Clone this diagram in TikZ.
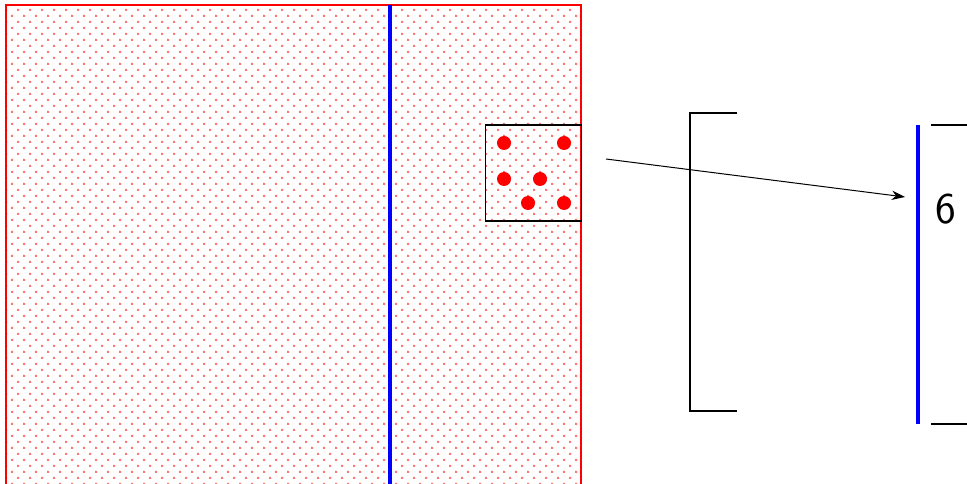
\documentclass[tikz,border=0pt]{standalone}
\usepackage{tikz}
\usetikzlibrary{patterns,arrows.meta}
\pgfdeclarepatternformonly{redgrain}{\pgfqpoint{-1pt}{-1pt}}{\pgfqpoint{10pt}{10pt}}{\pgfqpoint{9pt}{9pt}}
{\pgfpathrectangle{\pgfqpoint{-.75pt}{-.75pt}}{\pgfqpoint{1.5pt}{1.5pt}}
 \pgfpathrectangle{\pgfqpoint{3.75pt}{3.75pt}}{\pgfqpoint{1.5pt}{1.5pt}}
 \pgfusepath{fill}}
\tikzset{field/.style={draw=red,line width=1.5pt,pattern=redgrain,pattern color=red!55},
 cut/.style={draw=blue,line width=3pt},
 grain/.style={circle,fill=red,inner sep=0pt,minimum size=10.5pt},
 bracket/.style={draw=black,line width=1pt},
 every picture/.style={line join=miter,line cap=butt}}

\begin{document}
\begin{tikzpicture}[x=0.75pt,y=-0.75pt]
\useasboundingbox (0,0) rectangle (967,484);
\begin{scope}
\clip (0,0) rectangle (967,484);
\draw[field] (5.5,5.5) rectangle (581,520);
\draw[cut] (390,5.5) -- (390,520);
\end{scope}
% window onto the grains
\node[draw=black,line width=1pt,minimum size=72pt,inner sep=0pt] (win) at (533.5,173) {};
\node[grain] (g1) at (504,143) {};
\node[grain] (g2) at (564,143) {};
\node[grain] (g3) at (504,179) {};
\node[grain] (g4) at (540,179) {};
\node[grain] (g5) at (528,203) {};
\node[grain] (g6) at (564,203) {};
% scale on the right
\coordinate (lt) at (690,113);
\coordinate (lb) at (690,411);
\draw[bracket] ([xshift=35.25pt]lt) -- (lt) -- (lb) -- ([xshift=35.25pt]lb);
\coordinate (ct) at (918,125);
\coordinate (cb) at (918,424);
\draw[cut] (ct) -- (cb);
\draw[bracket] (931,125) -- (967,125);
\draw[bracket] (931,424) -- (967,424);
\node[font=\sffamily\fontsize{33}{40}\selectfont,inner sep=0pt] (num) at (945.5,209) {6};
\coordinate (from) at (606,159);
\coordinate (to) at (905,197);
\draw[-{Stealth[length=10pt,width=7pt]},line width=.75pt] (from) -- (to);
\end{tikzpicture}
\end{document}
